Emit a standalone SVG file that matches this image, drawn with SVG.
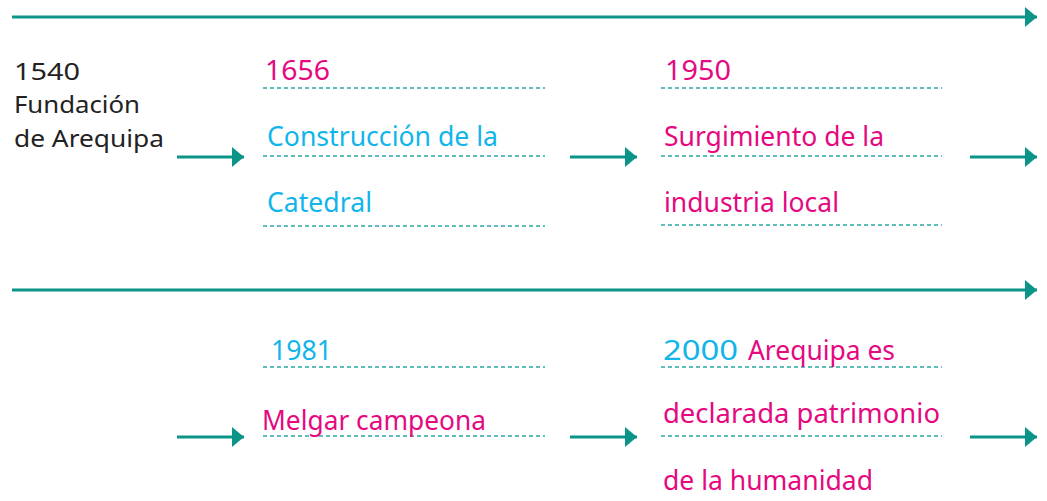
<svg xmlns="http://www.w3.org/2000/svg" width="1047" height="501" viewBox="0 0 1047 501">
<style>
text{font-family:"Noto Sans","Open Sans",sans-serif;font-size:27px}
.dk{fill:#222;font-size:24px}
.pk{fill:#e5097f}
.cy{fill:#12b5ea}
.axis{stroke:#0b9488;stroke-width:3;fill:none}
.arr{stroke:#0b9488;stroke-width:3;fill:none}
.dash{stroke:#2aa9a3;stroke-width:1.5;stroke-dasharray:4 3;fill:none}
</style>
<defs>
<marker id="ah" markerUnits="userSpaceOnUse" markerWidth="12" markerHeight="20" refX="12" refY="10" orient="auto">
<path d="M0,0 L12,10 L0,20 Z" fill="#0b9488"/>
</marker>
</defs>
<g id="connectors">
<line class="axis" x1="12" y1="17" x2="1037" y2="17" marker-end="url(#ah)"/>
<line class="axis" x1="12" y1="290" x2="1037" y2="290" marker-end="url(#ah)"/>
<line class="arr" x1="177" y1="157" x2="244" y2="157" marker-end="url(#ah)"/>
<line class="arr" x1="570" y1="157" x2="637" y2="157" marker-end="url(#ah)"/>
<line class="arr" x1="970" y1="157" x2="1037" y2="157" marker-end="url(#ah)"/>
<line class="arr" x1="177" y1="437" x2="244" y2="437" marker-end="url(#ah)"/>
<line class="arr" x1="570" y1="437" x2="637" y2="437" marker-end="url(#ah)"/>
<line class="arr" x1="970" y1="437" x2="1037" y2="437" marker-end="url(#ah)"/>
</g>
<g id="n1540">
<text class="dk" x="14" y="80" textLength="66" lengthAdjust="spacingAndGlyphs">1540</text>
<text class="dk" x="14" y="113" textLength="126" lengthAdjust="spacingAndGlyphs">Fundación</text>
<text class="dk" x="14" y="147" textLength="150" lengthAdjust="spacingAndGlyphs">de Arequipa</text>
</g>
<g id="n1656">
<line class="dash" x1="263" y1="88" x2="545" y2="88"/>
<line class="dash" x1="263" y1="156" x2="545" y2="156"/>
<line class="dash" x1="263" y1="226" x2="545" y2="226"/>
<text class="pk" x="265" y="80" textLength="65" lengthAdjust="spacingAndGlyphs">1656</text>
<text class="cy" x="267" y="146" textLength="231" lengthAdjust="spacingAndGlyphs">Construcción de la</text>
<text class="cy" x="267" y="212" textLength="105" lengthAdjust="spacingAndGlyphs">Catedral</text>
</g>
<g id="n1950">
<line class="dash" x1="661" y1="88" x2="942" y2="88"/>
<line class="dash" x1="661" y1="156" x2="942" y2="156"/>
<line class="dash" x1="661" y1="225" x2="942" y2="225"/>
<text class="pk" x="665" y="80" textLength="66" lengthAdjust="spacingAndGlyphs">1950</text>
<text class="pk" x="664" y="146" textLength="220" lengthAdjust="spacingAndGlyphs">Surgimiento de la</text>
<text class="pk" x="664" y="212" textLength="175" lengthAdjust="spacingAndGlyphs">industria local</text>
</g>
<g id="n1981">
<line class="dash" x1="263" y1="367" x2="545" y2="367"/>
<line class="dash" x1="263" y1="436" x2="545" y2="436"/>
<text class="cy" x="271" y="360" textLength="61" lengthAdjust="spacingAndGlyphs">1981</text>
<text class="pk" x="262" y="430" textLength="224" lengthAdjust="spacingAndGlyphs">Melgar campeona</text>
</g>
<g id="n2000">
<line class="dash" x1="661" y1="367" x2="942" y2="367"/>
<line class="dash" x1="661" y1="436" x2="942" y2="436"/>
<text class="cy" x="663" y="360" textLength="75" lengthAdjust="spacingAndGlyphs">2000</text>
<text class="pk" x="748" y="360" textLength="147" lengthAdjust="spacingAndGlyphs">Arequipa es</text>
<text class="pk" x="663" y="423" textLength="277" lengthAdjust="spacingAndGlyphs">declarada patrimonio</text>
<text class="pk" x="663" y="490" textLength="210" lengthAdjust="spacingAndGlyphs">de la humanidad</text>
</g>
</svg>
